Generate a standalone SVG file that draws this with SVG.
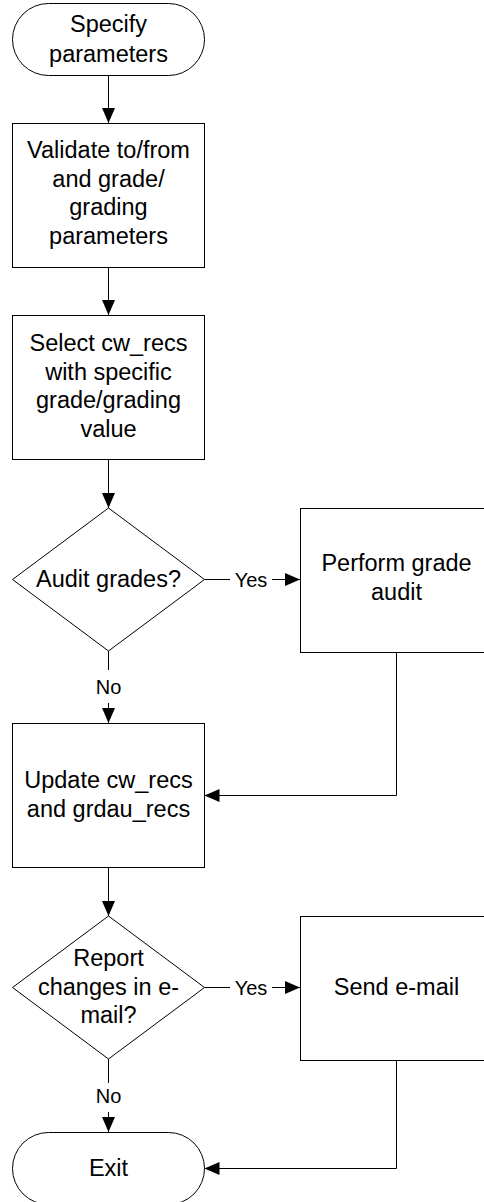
<svg xmlns="http://www.w3.org/2000/svg" width="484" height="1202" viewBox="0 0 484 1202">
  <defs>
    <marker id="arrow" markerUnits="userSpaceOnUse" markerWidth="15" markerHeight="13" refX="15" refY="6.5" orient="auto">
      <path d="M0,0 L15,6.5 L0,13 Z" fill="#000"/>
    </marker>
  </defs>
  <style>
    .shape { fill: #fff; stroke: #000; stroke-width: 1; }
    .conn { fill: none; stroke: #000; stroke-width: 1; }
    .arr { marker-end: url(#arrow); }
    .t { font-family: "Liberation Sans", Arial, sans-serif; font-size: 23.5px; fill: #000; text-anchor: middle; }
    .lbl { font-family: "Liberation Sans", Arial, sans-serif; font-size: 20px; fill: #000; text-anchor: middle; }
  </style>

  <rect width="484" height="1202" fill="#fff"/>

  <!-- connectors -->
  <g id="connectors">
    <line class="conn arr" x1="108.5" y1="75" x2="108.5" y2="123"/>
    <line class="conn arr" x1="108.5" y1="267" x2="108.5" y2="315"/>
    <line class="conn arr" x1="108.5" y1="459" x2="108.5" y2="508"/>
    <!-- Audit grades? : Yes -->
    <line class="conn" x1="204.5" y1="579.5" x2="230" y2="579.5"/>
    <line class="conn arr" x1="272" y1="579.5" x2="300" y2="579.5"/>
    <text class="lbl" x="251" y="586.5">Yes</text>
    <!-- Audit grades? : No -->
    <line class="conn" x1="108.5" y1="651" x2="108.5" y2="670"/>
    <line class="conn arr" x1="108.5" y1="703" x2="108.5" y2="723"/>
    <text class="lbl" x="108.5" y="693.5">No</text>
    <!-- Perform grade audit back to update -->
    <polyline class="conn arr" points="396.5,652 396.5,795.5 204.5,795.5"/>
    <line class="conn arr" x1="108.5" y1="868" x2="108.5" y2="916"/>
    <!-- Report changes : Yes -->
    <line class="conn" x1="204.5" y1="987.5" x2="230" y2="987.5"/>
    <line class="conn arr" x1="272" y1="987.5" x2="300" y2="987.5"/>
    <text class="lbl" x="251" y="994.5">Yes</text>
    <!-- Report changes : No -->
    <line class="conn" x1="108.5" y1="1059" x2="108.5" y2="1083"/>
    <line class="conn arr" x1="108.5" y1="1112" x2="108.5" y2="1132"/>
    <text class="lbl" x="108.5" y="1103">No</text>
    <!-- Send e-mail to exit -->
    <polyline class="conn arr" points="396.5,1060 396.5,1168.5 204.5,1168.5"/>
  </g>

  <g id="start">
    <rect class="shape" x="12.5" y="3.5" width="192" height="72" rx="36" ry="36"/>
    <text class="t" x="108.5" y="32">Specify</text>
    <text class="t" x="108.5" y="61.5">parameters</text>
  </g>

  <g id="validate">
    <rect class="shape" x="12.5" y="123.5" width="192" height="144"/>
    <text class="t" x="108.5" y="158">Validate to/from</text>
    <text class="t" x="108.5" y="186.5">and grade/</text>
    <text class="t" x="108.5" y="215">grading</text>
    <text class="t" x="108.5" y="243.5">parameters</text>
  </g>

  <g id="select">
    <rect class="shape" x="12.5" y="315.5" width="192" height="144"/>
    <text class="t" x="108.5" y="351">Select cw_recs</text>
    <text class="t" x="108.5" y="379.5">with specific</text>
    <text class="t" x="108.5" y="408">grade/grading</text>
    <text class="t" x="108.5" y="436.5">value</text>
  </g>

  <g id="audit-decision">
    <polygon class="shape" points="108.5,508 204.5,579.5 108.5,651 12.5,579.5"/>
    <text class="t" x="108.5" y="586.5">Audit grades?</text>
  </g>

  <g id="perform-audit">
    <rect class="shape" x="300.5" y="508.5" width="192" height="144"/>
    <text class="t" x="396.5" y="571">Perform grade</text>
    <text class="t" x="396.5" y="599.5">audit</text>
  </g>

  <g id="update">
    <rect class="shape" x="12.5" y="723.5" width="192" height="144"/>
    <text class="t" x="108.5" y="788">Update cw_recs</text>
    <text class="t" x="108.5" y="816.5">and grdau_recs</text>
  </g>

  <g id="report-decision">
    <polygon class="shape" points="108.5,916 204.5,987.5 108.5,1059 12.5,987.5"/>
    <text class="t" x="108.5" y="966">Report</text>
    <text class="t" x="108.5" y="994.5">changes in e-</text>
    <text class="t" x="108.5" y="1023">mail?</text>
  </g>

  <g id="send-email">
    <rect class="shape" x="300.5" y="916.5" width="192" height="144"/>
    <text class="t" x="396.5" y="995">Send e-mail</text>
  </g>

  <g id="exit">
    <rect class="shape" x="12.5" y="1132.5" width="192" height="72" rx="36" ry="36"/>
    <text class="t" x="108.5" y="1176">Exit</text>
  </g>
</svg>
